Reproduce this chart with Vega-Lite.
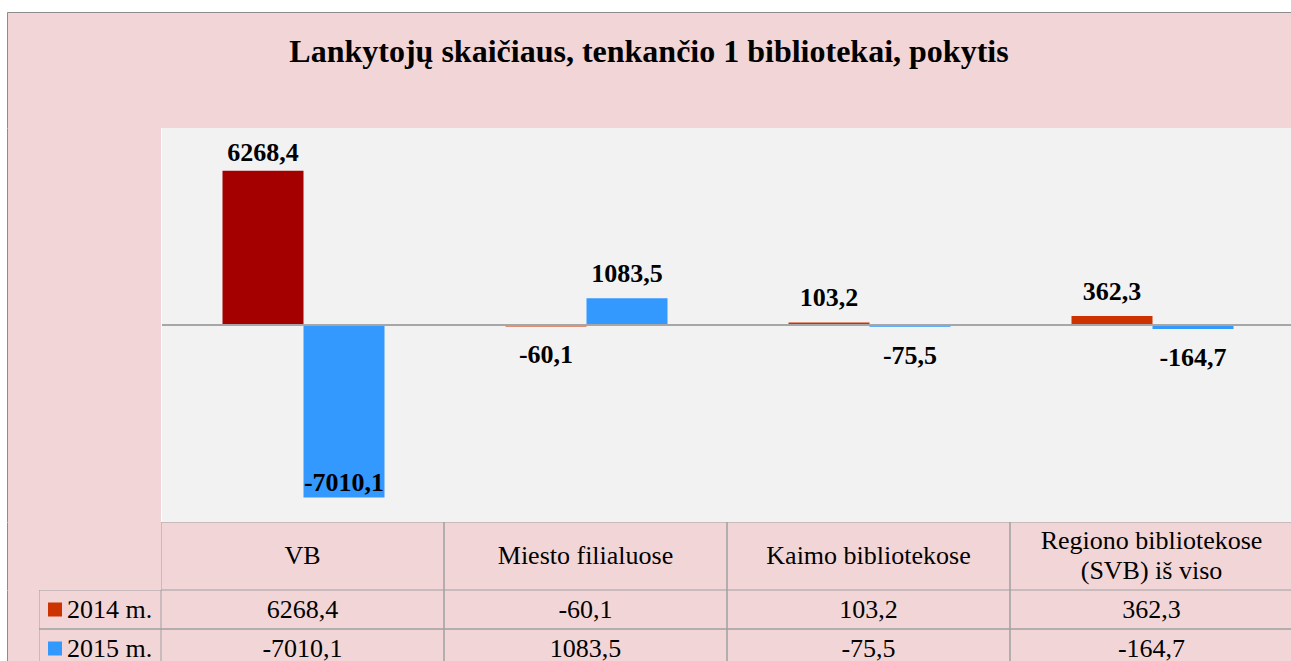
{
  "$schema": "https://vega.github.io/schema/vega-lite/v6.json",
  "background": "white",
  "padding": {"left": 7, "top": 12, "right": 0, "bottom": 0},
  "datasets": {
    "d": [
      {"cat": "VB", "year": "2014 m.", "v": 6268.4},
      {"cat": "VB", "year": "2015 m.", "v": -7010.1},
      {"cat": "Miesto filialuose", "year": "2014 m.", "v": -60.1},
      {"cat": "Miesto filialuose", "year": "2015 m.", "v": 1083.5},
      {"cat": "Kaimo bibliotekose", "year": "2014 m.", "v": 103.2},
      {"cat": "Kaimo bibliotekose", "year": "2015 m.", "v": -75.5},
      {"cat": "Regiono bibliotekose\n(SVB) iš viso", "year": "2014 m.", "v": 362.3},
      {"cat": "Regiono bibliotekose\n(SVB) iš viso", "year": "2015 m.", "v": -164.7}
    ]
  },
  "spacing": 0,
  "vconcat": [
    {
      "width": 1284,
      "height": 116,
      "data": {"values": [{"t": "Lankytojų skaičiaus, tenkančio 1 bibliotekai, pokytis"}]},
      "mark": {"type": "text", "font": "Liberation Serif", "fontSize": 32, "fontWeight": "bold", "color": "#000000", "baseline": "alphabetic", "dy": -8},
      "encoding": {
        "text": {"field": "t"},
        "x": {"datum": 0.5, "type": "quantitative", "scale": {"domain": [0, 1]}, "axis": {"orient": "top", "domain": true, "domainColor": "#8C8C8C", "ticks": false, "labels": false, "grid": false, "title": null, "minExtent": 0, "maxExtent": 0}},
        "y": {"datum": 0.5, "type": "quantitative", "scale": {"domain": [0, 1]}, "axis": {"orient": "left", "domain": true, "domainColor": "#8C8C8C", "ticks": false, "labels": false, "grid": false, "title": null, "minExtent": 0, "maxExtent": 0}}
      }
    },
    {
      "spacing": 0,
      "hconcat": [
        {
          "width": 154,
          "height": 394,
          "data": {"values": [{}]},
          "mark": {"type": "text", "text": ""},
          "encoding": {
            "y": {"datum": 0.5, "type": "quantitative", "scale": {"domain": [0, 1]}, "axis": {"orient": "left", "domain": true, "domainColor": "#8C8C8C", "ticks": false, "labels": false, "grid": false, "title": null, "minExtent": 0, "maxExtent": 0}}
          }
        },
        {
          "width": 1130,
          "height": 394,
          "view": {"fill": "#F2F2F2", "stroke": null},
          "data": {"name": "d"},
          "layer": [
            {
              "mark": {"type": "bar"},
              "encoding": {
                "x": {"field": "cat", "type": "nominal", "sort": null, "scale": {"range": [0, 1132], "paddingInner": 0.4276, "paddingOuter": 0.2138}, "axis": null},
                "xOffset": {"field": "year", "type": "nominal"},
                "y": {"field": "v", "type": "quantitative", "scale": {"domain": [-8000, 8000], "nice": false}, "axis": null},
                "color": {
                  "condition": {"test": "datum.cat === 'VB' && datum.year === '2014 m.'", "value": "#A50000"},
                  "field": "year", "type": "nominal",
                  "scale": {"domain": ["2014 m.", "2015 m."], "range": ["#CC3300", "#3399FF"]},
                  "legend": null
                }
              }
            },
            {
              "mark": {"type": "rule", "color": "#A6A6A6", "strokeWidth": 1},
              "encoding": {"y": {"datum": 0, "type": "quantitative"}}
            },
            {
              "mark": {"type": "text", "font": "Liberation Serif", "fontSize": 26, "fontWeight": "bold", "color": "#000000", "baseline": "alphabetic",
                "dy": {"expr": "datum.v > 5000 ? -10 : (datum.v > 0 ? -16 : (datum.v < -5000 ? -7 : 37))"}},
              "encoding": {
                "x": {"field": "cat", "type": "nominal", "sort": null},
                "xOffset": {"field": "year", "type": "nominal"},
                "y": {"field": "v", "type": "quantitative"},
                "text": {"field": "v", "type": "quantitative", "format": ".1f"}
              }
            }
          ]
        }
      ]
    },
    {
      "spacing": 0,
      "hconcat": [
        {
          "width": 154,
          "height": 68,
          "data": {"values": [{}]},
          "mark": {"type": "text", "text": ""},
          "encoding": {
            "y": {"datum": 0.5, "type": "quantitative", "scale": {"domain": [0, 1]}, "axis": {"orient": "left", "domain": true, "domainColor": "#8C8C8C", "ticks": false, "labels": false, "grid": false, "title": null, "minExtent": 0, "maxExtent": 0}}
          }
        },
        {
          "width": 1130,
          "height": 68,
          "data": {"name": "d"},
          "transform": [{"filter": "datum.year === '2014 m.'"}],
          "encoding": {
            "x": {"field": "cat", "type": "nominal", "sort": null, "scale": {"range": [0, 1132], "paddingInner": 0, "paddingOuter": 0}, "axis": null}
          },
          "layer": [
            {"mark": {"type": "rect", "fillOpacity": 0, "stroke": "#A0A0A0", "strokeWidth": 1, "clip": true}},
            {
              "mark": {"type": "text", "font": "Liberation Serif", "fontSize": 26, "color": "#000000", "baseline": "middle", "lineBreak": "\n", "lineHeight": 30, "clip": true,
                "dy": {"expr": "indexof(datum.cat, '\\n') >= 0 ? -15 : 0"}},
              "encoding": {"text": {"field": "cat"}}
            }
          ]
        }
      ]
    },
    {
      "spacing": 0,
      "hconcat": [
        {
          "width": 32,
          "height": 71,
          "data": {"values": [{}]},
          "mark": {"type": "text", "text": ""},
          "encoding": {
            "y": {"datum": 0.5, "type": "quantitative", "scale": {"domain": [0, 1]}, "axis": {"orient": "left", "domain": true, "domainColor": "#8C8C8C", "ticks": false, "labels": false, "grid": false, "title": null, "minExtent": 0, "maxExtent": 0}}
          }
        },
        {
          "width": 122,
          "height": 71,
          "data": {"name": "d"},
          "transform": [{"filter": "datum.cat === 'VB'"}],
          "encoding": {
            "y": {"field": "year", "type": "nominal", "sort": null, "scale": {"range": [0, 78], "paddingInner": 0, "paddingOuter": 0}, "axis": null}
          },
          "layer": [
            {"mark": {"type": "rect", "fillOpacity": 0, "stroke": "#A0A0A0", "strokeWidth": 1, "clip": true}},
            {
              "mark": {"type": "point", "shape": "square", "filled": true, "opacity": 1, "size": 196, "xOffset": -45, "clip": true},
              "encoding": {
                "color": {"field": "year", "type": "nominal", "scale": {"domain": ["2014 m.", "2015 m."], "range": ["#CC3300", "#3399FF"]}, "legend": null}
              }
            },
            {
              "mark": {"type": "text", "font": "Liberation Serif", "fontSize": 26, "color": "#000000", "baseline": "middle", "align": "left", "dx": -33, "clip": true},
              "encoding": {"text": {"field": "year"}}
            }
          ]
        },
        {
          "width": 1130,
          "height": 71,
          "data": {"name": "d"},
          "encoding": {
            "x": {"field": "cat", "type": "nominal", "sort": null, "scale": {"range": [0, 1132], "paddingInner": 0, "paddingOuter": 0}, "axis": null},
            "y": {"field": "year", "type": "nominal", "sort": null, "scale": {"range": [0, 78], "paddingInner": 0, "paddingOuter": 0}, "axis": null}
          },
          "layer": [
            {"mark": {"type": "rect", "fillOpacity": 0, "stroke": "#A0A0A0", "strokeWidth": 1, "clip": true}},
            {
              "mark": {"type": "text", "font": "Liberation Serif", "fontSize": 26, "color": "#000000", "baseline": "middle", "clip": true},
              "encoding": {"text": {"field": "v", "type": "quantitative", "format": ".1f"}}
            }
          ]
        }
      ]
    }
  ],
  "config": {
    "view": {"fill": "#F2D6D7", "stroke": null},
    "concat": {"spacing": 0},
    "locale": {"number": {"decimal": ",", "thousands": " ", "grouping": [3], "currency": ["", ""], "minus": "-"}}
  }
}
